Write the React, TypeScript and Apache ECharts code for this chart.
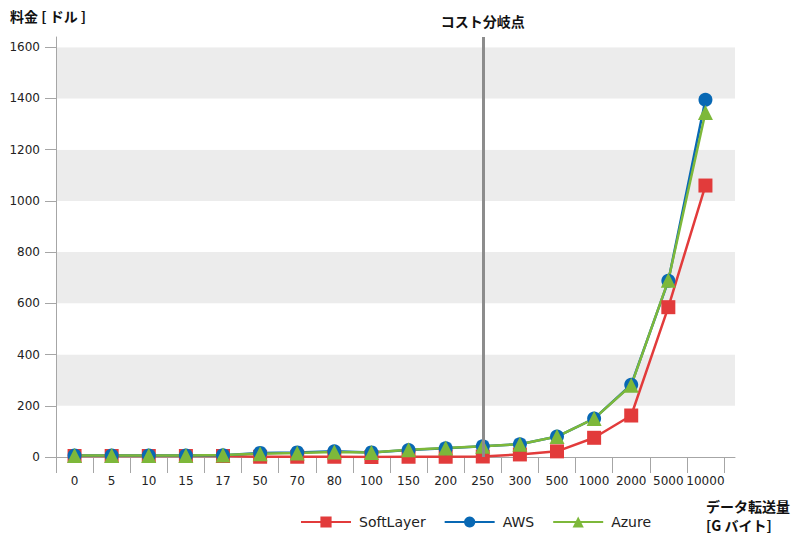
import React, { useEffect, useRef } from "react";
import * as echarts from "echarts";

const categories = ["0", "5", "10", "15", "17", "50", "70", "80", "100", "150", "200", "250", "300", "500", "1000", "2000", "5000", "10000"];
const softLayer = [4, 4, 4, 4, 4, 1, 1, 1, 0, 1, 1, 2, 10, 22, 75, 162, 585, 1060];
const aws = [6, 6, 6, 6, 7, 16, 18, 22, 18, 27, 34, 42, 50, 80, 150, 282, 688, 1395];
const azure = [6, 6, 6, 6, 8, 13, 16, 20, 18, 28, 35, 42, 50, 80, 150, 280, 690, 1345];
const yTicks = [0, 200, 400, 600, 800, 1000, 1200, 1400, 1600];
const breakEven = "250";

const RED = "#e23b3b";
const BLUE = "#0868b4";
const GREEN = "#7db83a";
const AXIS = "#a6a6a6";
const FONT = "DejaVu Sans";
const CJK = "Noto Sans CJK JP";

export default function App() {
  const ref = useRef<HTMLDivElement>(null);
  useEffect(() => {
    if (!ref.current) return;
    const chart = echarts.init(ref.current, null, { renderer: "svg" });
    const lineSeries = (name: string, data: number[], color: string, symbol: string, size: number) => ({
      type: "line",
      name,
      data,
      xAxisIndex: 0,
      yAxisIndex: 0,
      symbol,
      symbolSize: size,
      showAllSymbol: true,
      itemStyle: { color },
      lineStyle: { color, width: 2.5 },
      emphasis: { disabled: true },
    });
    chart.setOption({
      animation: false,
      backgroundColor: "#ffffff",
      textStyle: { fontFamily: FONT },
      grid: [
        { left: 56, right: 76, top: 37, bottom: 95 },
        { left: 56, right: 65, top: 37, bottom: 95 },
      ],
      xAxis: [
        {
          type: "category",
          gridIndex: 0,
          data: categories,
          boundaryGap: true,
          axisLine: { show: true, lineStyle: { color: AXIS, width: 1 } },
          axisTick: { show: true, length: 16, interval: 0, lineStyle: { color: AXIS } },
          axisLabel: { interval: 0, margin: 18, color: "#222", fontSize: 12, fontFamily: FONT },
          splitLine: { show: false },
          z: 3,
        },
        {
          type: "value",
          gridIndex: 1,
          min: 0,
          max: 1,
          axisLine: { show: true, lineStyle: { color: AXIS, width: 1 } },
          axisTick: { show: false },
          axisLabel: { show: false },
          splitLine: { show: false },
        },
      ],
      yAxis: [
        {
          type: "value",
          gridIndex: 0,
          min: 0,
          max: 1640,
          interval: 200,
          axisLine: { show: true, lineStyle: { color: AXIS, width: 1 } },
          axisTick: { show: true, length: 11, customValues: yTicks, lineStyle: { color: AXIS } },
          axisLabel: {
            customValues: yTicks,
            margin: 16,
            color: "#222",
            fontSize: 12,
            fontFamily: FONT,
            formatter: (v: number) => (v % 200 === 0 ? String(v) : ""),
          },
          splitLine: { show: false },
          splitArea: { show: false },
          z: 3,
        },
        {
          type: "value",
          gridIndex: 1,
          min: 0,
          max: 1640,
          interval: 200,
          axisLine: { show: false },
          axisTick: { show: false },
          axisLabel: { show: false },
          splitLine: { show: false },
          splitArea: { show: true, areaStyle: { color: ["#ffffff", "#ececec"] } },
        },
      ],
      legend: {
        data: ["SoftLayer", "AWS", "Azure"],
        left: 295,
        top: 510,
        itemWidth: 50,
        itemHeight: 14,
        itemGap: 18,
        textStyle: { fontSize: 14, color: "#222", fontFamily: FONT, padding: [0, 0, 0, 3] },
      },
      graphic: [
        {
          type: "text",
          left: 10,
          top: 9,
          style: { text: "料金 [ ドル ]", font: `bold 14px "${CJK}"`, fill: "#111" },
        },
        {
          type: "text",
          left: 706,
          top: 496,
          style: { text: "データ転送量\n[G バイト]", font: `bold 14px "${CJK}"`, fill: "#111", lineHeight: 19 },
        },
      ],
      series: [
        {
          type: "line",
          name: "breakeven",
          data: [],
          xAxisIndex: 0,
          yAxisIndex: 0,
          markLine: {
            silent: true,
            symbol: ["none", "none"],
            lineStyle: { color: "#8c8c8c", width: 3, type: "solid" },
            label: {
              show: true,
              position: "end",
              formatter: "コスト分岐点",
              distance: 9,
              fontFamily: CJK,
              fontWeight: "bold",
              fontSize: 14,
              color: "#111",
            },
            data: [{ xAxis: breakEven }],
          },
        },
        lineSeries("SoftLayer", softLayer, RED, "rect", 14),
        lineSeries("AWS", aws, BLUE, "circle", 14),
        lineSeries("Azure", azure, GREEN, "triangle", 15),
      ],
    });
    return () => chart.dispose();
  }, []);
  return <div ref={ref} style={{ width: 800, height: 552, position: "absolute", left: 0, top: 0 }} />;
}
